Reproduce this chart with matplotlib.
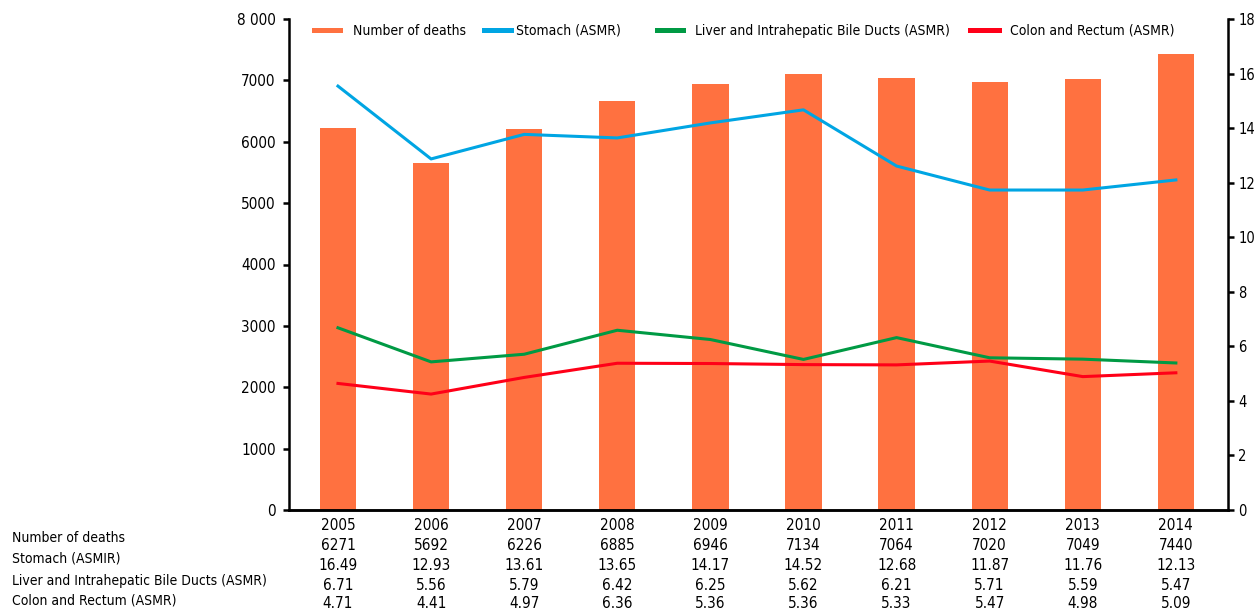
import matplotlib.pyplot as plt
import matplotlib.transforms as mtransforms
from matplotlib.lines import Line2D
from matplotlib.legend import Legend
import numpy as np

plt.rcParams['font.family'] = ['DejaVu Sans']
plt.rcParams['font.stretch'] = 'condensed'

# === data
years = [2005, 2006, 2007, 2008, 2009, 2010, 2011, 2012, 2013, 2014]
deaths_plot = [6220, 5650, 6210, 6660, 6940, 7100, 7040, 6970, 7020, 7430]
stomach_plot = [15.54, 12.87, 13.77, 13.64, 14.19, 14.67, 12.61, 11.73, 11.73, 12.10]
liver_plot = [6.68, 5.43, 5.71, 6.59, 6.25, 5.52, 6.32, 5.58, 5.53, 5.39]
colon_plot = [4.64, 4.25, 4.86, 5.38, 5.37, 5.33, 5.32, 5.46, 4.89, 5.03]

# values printed in the table under the chart
row_labels = ["Number of deaths", "Stomach (ASMIR)",
              "Liver and Intrahepatic Bile Ducts (ASMR)", "Colon and Rectum (ASMR)"]
deaths_tbl = ["6271", "5692", "6226", "6885", "6946", "7134", "7064", "7020", "7049", "7440"]
stomach_tbl = ["16.49", "12.93", "13.61", "13.65", "14.17", "14.52", "12.68", "11.87", "11.76", "12.13"]
liver_tbl = ["6.71", "5.56", "5.79", "6.42", "6.25", "5.62", "6.21", "5.71", "5.59", "5.47"]
colon_tbl = ["4.71", "4.41", "4.97", "6.36", "5.36", "5.36", "5.33", "5.47", "4.98", "5.09"]

left_ticks = [0, 1000, 2000, 3000, 4000, 5000, 6000, 7000, 8000]
left_ticklabels = ["0", "1000", "2000", "3000", "4000", "5000", "6000", "7000", "8 000"]
right_ticks = [0, 2, 4, 6, 8, 10, 12, 14, 16, 18]

c_bar = '#FF7140'
c_stomach = '#00A5E3'
c_liver = '#009A44'
c_colon = '#FF0018'
fs = 11

# === figure
fig = plt.figure(figsize=(12.58, 6.12), dpi=100)
ax = fig.add_axes([289 / 1258, 1 - 510 / 612, 939 / 1258, 491 / 612])
x = np.arange(len(years))

ax.bar(x, deaths_plot, width=0.39, color=c_bar, zorder=1)
ax.set_xlim(-0.526, 9.56)
ax.set_ylim(0, 8000)
ax.set_yticks(left_ticks)
ax.set_yticklabels(left_ticklabels, fontsize=fs)
ax.set_xticks([])

ax2 = ax.twinx()
ax2.plot(x, stomach_plot, color=c_stomach, lw=2.2)
ax2.plot(x, liver_plot, color=c_liver, lw=2.2)
ax2.plot(x, colon_plot, color=c_colon, lw=2.2)
ax2.set_ylim(0, 18)
ax2.set_yticks(right_ticks)

for a in (ax, ax2):
    a.spines['top'].set_visible(False)
    for s in ('left', 'right', 'bottom'):
        a.spines[s].set_linewidth(1.8)
    a.tick_params(axis='y', length=4.5, width=1.8, pad=5)
ax2.tick_params(axis='y', labelsize=10.5, pad=3)
ax.spines['right'].set_visible(False)
ax2.spines['left'].set_visible(False)

# === legend (separate entries, spaced like the original)
lfs = 10
entries = [
    (Line2D([], [], color=c_bar, lw=3.6), "Number of deaths", 0.0266, 1.9, 0.9),
    (Line2D([], [], color=c_stomach, lw=3.6), "Stomach (ASMR)", 0.2077, 1.95, 0.35),
    (Line2D([], [], color=c_liver, lw=3.6), "Liver and Intrahepatic Bile Ducts (ASMR)", 0.3919, 1.9, 0.85),
    (Line2D([], [], color=c_colon, lw=3.6), "Colon and Rectum (ASMR)", 0.7252, 2.1, 0.8),
]
for h, lab, xa, hl, tp in entries:
    leg = Legend(ax2, [h], [lab], loc='center left', bbox_to_anchor=(xa, 0.9756),
                 frameon=False, borderpad=0, borderaxespad=0, fontsize=lfs,
                 handlelength=hl, handletextpad=tp)
    ax2.add_artist(leg)

# === data table under the chart
trans = mtransforms.blended_transform_factory(ax.transData, fig.transFigure)
val_y = [1 - 545 / 612, 1 - 565 / 612, 1 - 585 / 612, 1 - 604 / 612]
lab_y = [1 - 538 / 612, 1 - 559 / 612, 1 - 581 / 612, 1 - 601 / 612]
for i, yr in enumerate(years):
    ax.text(i, 1 - 526 / 612, str(yr), transform=trans, ha='center', va='center', fontsize=fs)
for ry, vals in zip(val_y, [deaths_tbl, stomach_tbl, liver_tbl, colon_tbl]):
    for i, v in enumerate(vals):
        ax.text(i, ry, v, transform=trans, ha='center', va='center', fontsize=fs)
for ry, lab in zip(lab_y, row_labels):
    fig.text(12 / 1258, ry, lab, ha='left', va='center', fontsize=10)

fig.savefig("out.png", dpi=100)
